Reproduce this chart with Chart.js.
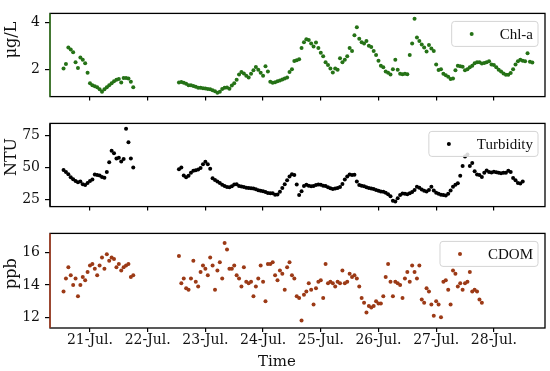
<!DOCTYPE html>
<html>
<head>
<meta charset="utf-8">
<script src="https://cdn.jsdelivr.net/npm/chart.js@4.4.1/dist/chart.umd.min.js"></script>
<style>
  html, body { margin: 0; padding: 0; background: #fff; }
  #wrap { position: relative; width: 550px; height: 371px; }
  canvas { position: absolute; left: 0; }
</style>
</head>
<body>
<div id="wrap">
  <canvas id="chl" width="550" height="110" style="top:0"></canvas>
  <canvas id="turb" width="550" height="110" style="top:110px"></canvas>
  <canvas id="cdom" width="550" height="151" style="top:220px"></canvas>
</div>
<script>
// hourly readings, first one on 20-Jul 13:00 (x axis unit = day of July)
const START = 20 + 13 / 24;
const dayTicks = [21, 22, 23, 24, 25, 26, 27, 28];
const chlTicks = [2, 4];
const turbTicks = [25, 50, 75];
const cdomTicks = [12, 14, 16];

const chlValues = [
  2.03, 2.22, 2.93, 2.84, 2.72, 2.30, 2.05, 2.50, 2.40, 2.25, 1.85, 1.40, 1.31, 1.27, 1.23,
  1.14, 1.04, 1.14, 1.23, 1.31, 1.40, 1.48, 1.55, 1.58, 1.43, 1.62, 1.62, 1.60, 1.46, 1.23,
  null, null, null, null, null, null, null, null, null, null, null, null, null, null, null, null, null, null,
  1.43, 1.45, 1.42, 1.38, 1.31, 1.31, 1.28, 1.25, 1.21, 1.21, 1.19, 1.18, 1.15, 1.14, 1.10,
  1.06, 0.99, 1.04, 1.15, 1.21, 1.22, 1.16, 1.30, 1.40, 1.55, 1.77, 1.88, 1.82, 1.72, 1.65,
  1.80, 1.95, 2.09, 1.98, 1.85, 1.72, 2.12, 1.90,
  1.46, 1.42, 1.44, 1.48, 1.52, 1.56, 1.60, 1.65, 1.88, 2.00, 2.35, 2.38, 2.42, 2.90, 3.15,
  3.28, 3.24, 3.10, 2.97, 3.14, 2.90, 2.70, 2.55, 2.30, 2.18, 2.03, 1.86, 2.03, 1.98, 2.47,
  2.30, 2.40, 2.55, 2.90, 2.78, 3.45, 3.79, 3.30, 3.15, 3.10, 3.20, 3.00, 2.95, 2.78, 2.60,
  2.36, 2.15, 2.08, 1.90, 1.85, 1.77, 2.00, 2.40, 1.98, 1.80, 1.78, 1.80, 1.78, 2.60, 3.10,
  4.15, 3.35, 3.20, 3.05, 2.92, 2.75, 3.03, 2.88, 2.78, 2.20, 1.97, 2.00, 1.80, 1.74, 1.68,
  1.58, 1.60, 1.95, 2.15, 2.12, 2.10, 1.95, 2.00, 2.08, 2.15, 2.25, 2.30, 2.30, 2.24, 2.26,
  2.30, 2.34, 2.20, 2.18, 2.08, 1.98, 1.90, 1.82, 1.76, 1.76, 1.84, 2.00, 2.20, 2.34, 2.40,
  2.36, 2.34, 2.68, 2.32, 2.28
];

const turbValues = [
  48.0, 46.5, 44.7, 42.4, 40.8, 39.4, 38.5, 39.0, 36.8, 36.2, 37.8, 39.5, 40.5, 44.5, 44.0,
  43.6, 42.6, 42.0, 46.5, 54.0, 63.0, 61.0, 57.0, 57.5, 54.5, 56.5, 80.0, 69.5, 57.0, 50.0,
  null, null, null, null, null, null, null, null, null, null, null, null, null, null, null, null, null, null,
  48.5, 50.0, 43.6, 42.4, 43.5, 45.9, 47.3, 47.8, 48.4, 49.5, 52.5, 54.3, 52.5, 49.0, 41.5,
  40.1, 39.0, 37.8, 36.5, 35.6, 34.8, 34.6, 35.3, 36.6, 36.8, 35.6, 35.1, 34.7, 34.2, 33.9,
  33.7, 33.6, 32.9, 32.3, 31.8, 31.5, 30.8, 30.0,
  29.8, 29.8, 28.8, 29.0, 31.0, 34.0, 36.8, 40.0, 43.0, 44.7, 44.0, 36.7, 28.5, 31.5, 35.5,
  36.5, 35.8, 35.3, 35.6, 36.2, 36.7, 36.5, 35.8, 35.5, 34.5, 33.8, 33.2, 33.5, 33.9, 34.8,
  37.0, 40.5, 43.0, 44.5, 44.0, 44.2, 39.0, 36.3, 35.8, 35.3, 34.5, 34.0, 33.5, 33.1, 32.4,
  31.8, 31.3, 31.0, 30.3, 29.2, 27.5, 24.0, 23.5, 26.0, 28.5, 29.6, 29.4, 29.2, 29.8, 30.8,
  32.5, 35.0, 34.2, 32.8, 31.8, 31.2, 32.5, 35.0, 32.0, 30.3, 29.5, 28.8, 28.5, 28.2, 29.5,
  32.0, 35.0, 36.5, 37.6, 43.5, 51.0, 58.5, 60.0, 51.0, 53.5, 47.0, 44.5, 44.0, 42.6, 45.8,
  47.5, 46.5, 46.0, 46.6, 46.2, 45.8, 45.4, 45.9, 45.8, 47.3, 46.5, 41.8, 40.0, 37.8, 37.4,
  39.0
];

const cdomValues = [
  13.6, 14.4, 15.1, 14.6, 14.0, 14.4, 13.3, 14.0, 14.5, 14.3, 14.8, 15.2, 15.3, 15.0, 14.6,
  15.2, 15.7, 15.0, 15.9, 15.5, 15.7, 15.6, 15.1, 15.3, 14.9, 15.1, 15.2, 15.3, 14.5, 14.6,
  null, null, null, null, null, null, null, null, null, null, null, null, null, null, null, null, null, null,
  15.8, 14.1, 14.4, 13.8, 13.7, 14.4, 15.5, 14.2, 13.9, 14.8, 15.2, 15.0, 14.6, 15.7, 15.2,
  13.7, 14.9, 15.4, 14.4, 16.6, 16.2, 15.0, 15.0, 15.2, 14.6, 14.4, 13.9, 15.1, 14.2, 14.1,
  14.2, 13.3, 13.9, 14.4, 15.2, 14.2, 13.0, 15.3,
  15.3, 15.4, 14.6, 14.3, 14.9, 14.7, 13.7, 15.1, 15.4, 14.6, 14.4, 13.3, 13.2, 11.8, 13.4,
  13.6, 14.1, 13.7, 12.8, 13.8, 14.2, 14.3, 13.2, 15.3, 14.1, 14.2, 14.1, 13.9, 14.2, 14.1,
  14.9, 14.1, 14.2, 14.7, 14.5, 14.6, 14.4, 13.9, 13.2, 12.9, 12.3, 12.7, 12.6, 12.7, 13.0,
  12.85, 12.85, 13.3, 14.5, 15.3, 14.2, 13.3, 14.2, 14.1, 14.0, 13.2, 14.4, 14.8, 14.2, 15.2,
  14.8, 14.4, 15.2, 13.1, 12.9, 13.8, 13.6, 12.8, 12.1, 13.0, 12.8, 12.0, 14.2, 14.3, 13.7,
  12.8, 14.9, 14.7, 13.9, 14.1, 13.7, 14.1, 14.2, 14.8, 13.6, 13.7, 13.6, 13.1, 12.9
];

const X_MIN = 20.307, X_MAX = 28.886;

function toPoints(values) {
  const pts = [];
  values.forEach((v, i) => {
    if (v !== null) pts.push({ x: START + i / 24, y: v });
  });
  return pts;
}

// box round the panel, coloured left spine, legend inside, y label, x title
const panelFrame = {
  id: 'panelFrame',
  afterDraw(chart, args, o) {
    const ctx = chart.ctx, a = chart.chartArea;
    ctx.save();
    ctx.lineWidth = 1.3;
    ctx.strokeStyle = '#000';
    ctx.strokeRect(a.left, a.top, a.width, a.height);
    ctx.strokeStyle = o.spine;
    ctx.beginPath();
    ctx.moveTo(a.left, a.top);
    ctx.lineTo(a.left, a.bottom);
    ctx.stroke();

    const ds = chart.data.datasets[0];
    ctx.font = '15px "Liberation Serif"';
    const tw = ctx.measureText(ds.label).width;
    const right = a.right - 7, top = a.top + 8, h = 25;
    const left = right - 5 - tw - 48;
    ctx.beginPath();
    ctx.roundRect(left, top, right - left, h, 3);
    ctx.fillStyle = 'rgba(255,255,255,0.85)';
    ctx.fill();
    ctx.lineWidth = 1;
    ctx.strokeStyle = '#d4d4d4';
    ctx.stroke();
    ctx.fillStyle = ds.backgroundColor;
    ctx.beginPath();
    ctx.arc(left + 20, top + h / 2, 2, 0, Math.PI * 2);
    ctx.fill();
    ctx.fillStyle = '#111';
    ctx.textAlign = 'right';
    ctx.textBaseline = 'middle';
    ctx.fillText(ds.label, right - 5, top + h / 2 + 1);

    ctx.font = '16px "DejaVu Serif"';
    ctx.textAlign = 'center';
    ctx.save();
    ctx.translate(12, (a.top + a.bottom) / 2 + o.labelShift);
    ctx.rotate(-Math.PI / 2);
    ctx.fillText(o.yLabel, 0, 0);
    ctx.restore();

    if (o.xTitle) {
      ctx.font = '15px "DejaVu Serif"';
      ctx.fillText(o.xTitle, o.xTitleX, a.bottom + 34);
    }
    ctx.restore();
  }
};

const tickFont = { family: 'DejaVu Serif', size: 14 };

function makePanel(id, p) {
  new Chart(document.getElementById(id), {
    type: 'scatter',
    data: {
      datasets: [{
        label: p.label,
        data: toPoints(p.values),
        backgroundColor: p.color,
        borderWidth: 0,
        pointRadius: 2
      }]
    },
    options: {
      responsive: false,
      animation: false,
      devicePixelRatio: 1,
      events: [],
      layout: { padding: { top: p.top, right: 5, left: 0, bottom: 0 } },
      plugins: {
        legend: { display: false },
        tooltip: { enabled: false },
        panelFrame: { spine: p.spine, yLabel: p.yLabel, labelShift: p.labelShift, xTitle: p.xTitle, xTitleX: 277 }
      },
      scales: {
        x: {
          type: 'linear',
          min: X_MIN,
          max: X_MAX,
          afterFit: s => { s.height = p.xHeight; },
          afterBuildTicks: s => { s.ticks = dayTicks.map(v => ({ value: v })); },
          grid: { drawOnChartArea: false, tickLength: 4, color: '#000', lineWidth: 1.2 },
          border: { display: false },
          ticks: {
            display: !!p.xTitle,
            font: tickFont,
            color: '#111',
            padding: 0,
            maxRotation: 0,
            callback: v => v + '-Jul.'
          }
        },
        y: {
          min: p.yMin,
          max: p.yMax,
          afterFit: s => { s.width = 50; },
          afterBuildTicks: s => { s.ticks = p.ticks.map(v => ({ value: v })); },
          grid: { drawOnChartArea: false, tickLength: 5, color: '#000', lineWidth: 1.2 },
          border: { display: false },
          ticks: { font: tickFont, color: '#111', padding: 5 }
        }
      }
    },
    plugins: [panelFrame]
  });
}

makePanel('chl', {
  label: 'Chl-a', values: chlValues, color: '#257216', spine: '#3a8a20',
  yLabel: 'μg/L', labelShift: -15, yMin: 0.83, yMax: 4.38, ticks: chlTicks,
  top: 6, xHeight: 10
});
makePanel('turb', {
  label: 'Turbidity', values: turbValues, color: '#000', spine: '#000',
  yLabel: 'NTU', labelShift: -8, yMin: 19.5, yMax: 84.2, ticks: turbTicks,
  top: 10, xHeight: 6
});
makePanel('cdom', {
  label: 'CDOM', values: cdomValues, color: '#9c3a16', spine: '#c0401c',
  yLabel: 'ppb', labelShift: -7, yMin: 11.34, yMax: 17.19, ticks: cdomTicks,
  top: 13, xHeight: 43, xTitle: 'Time'
});
</script>
</body>
</html>
